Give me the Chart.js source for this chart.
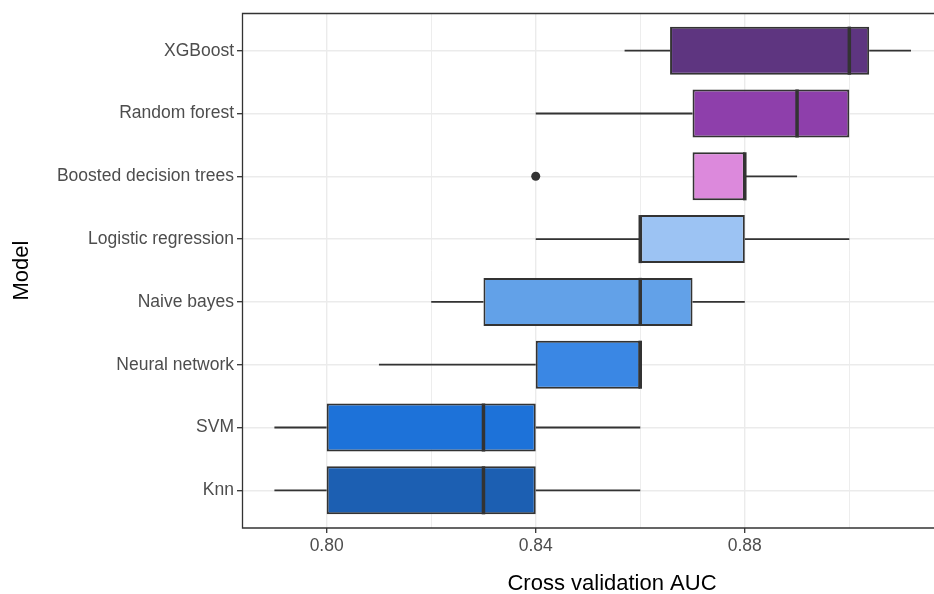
<!DOCTYPE html>
<html>
<head>
<meta charset="utf-8">
<script src="https://cdn.jsdelivr.net/npm/chart.js@4/dist/chart.umd.min.js"></script>
<style>
  html, body { margin: 0; padding: 0; background: #fff; overflow: hidden; }
  #wrap { width: 934px; height: 594px; position: relative; }
</style>
</head>
<body>
<div id="wrap"><canvas id="c"></canvas></div>
<script>
// Cross-validated AUC per model, summarised as box-plot statistics
const models = ['XGBoost', 'Random forest', 'Boosted decision trees', 'Logistic regression',
                'Naive bayes', 'Neural network', 'SVM', 'Knn'];
const whiskerLow  = [0.857, 0.84, 0.87, 0.84, 0.82, 0.81, 0.79, 0.79];
const lowerQuart  = [0.8657, 0.87, 0.87, 0.86, 0.83, 0.84, 0.80, 0.80];
const medians     = [0.90, 0.89, 0.88, 0.86, 0.86, 0.86, 0.83, 0.83];
const upperQuart  = [0.9038, 0.90, 0.88, 0.88, 0.87, 0.86, 0.84, 0.84];
const whiskerHigh = [0.9118, 0.90, 0.89, 0.90, 0.88, 0.86, 0.86, 0.86];
const outlierModels = ['Boosted decision trees'];
const outlierValues = [0.84];
const boxColors = ['#5e3580', '#8e3fab', '#dc89dc', '#9cc3f3', '#62a1e8', '#3a87e4', '#1d72d9', '#1c5fb2'];
const xGridValues = [0.80, 0.82, 0.84, 0.86, 0.88, 0.90];
const xTickLabels = [0.80, 0.84, 0.88];
const xTitle = 'Cross validation AUC';

const FONT = "'Liberation Sans', Arial, Helvetica, sans-serif";
const INK = '#333333';
const isLabelled = v => xTickLabels.some(t => Math.abs(t - v) < 1e-9);

// Whiskers sit behind the boxes, medians on top; the panel frame and x title are drawn last.
const boxPlotExtras = {
  id: 'boxPlotExtras',
  beforeDatasetsDraw(chart) {
    const { ctx, scales: { x, y } } = chart;
    ctx.save();
    ctx.strokeStyle = INK;
    ctx.lineWidth = 1.8;
    ctx.lineCap = 'butt';
    models.forEach((m, i) => {
      const py = y.getPixelForValue(i);
      ctx.beginPath();
      ctx.moveTo(x.getPixelForValue(whiskerLow[i]), py);
      ctx.lineTo(x.getPixelForValue(lowerQuart[i]), py);
      ctx.moveTo(x.getPixelForValue(upperQuart[i]), py);
      ctx.lineTo(x.getPixelForValue(whiskerHigh[i]), py);
      ctx.stroke();
    });
    ctx.restore();
  },
  afterDatasetsDraw(chart) {
    const { ctx, scales: { x } } = chart;
    const bars = chart.getDatasetMeta(0).data;
    ctx.save();
    ctx.strokeStyle = INK;
    ctx.lineWidth = 3.5;
    models.forEach((m, i) => {
      const bar = bars[i];
      const px = x.getPixelForValue(medians[i]);
      ctx.beginPath();
      ctx.moveTo(px, bar.y - bar.height / 2);
      ctx.lineTo(px, bar.y + bar.height / 2);
      ctx.stroke();
    });
    ctx.restore();
  },
  afterDraw(chart) {
    const { ctx, chartArea: a } = chart;
    ctx.save();
    ctx.strokeStyle = INK;
    ctx.lineWidth = 1.3;
    ctx.beginPath();
    ctx.moveTo(a.right + 2, a.top + 0.5);
    ctx.lineTo(a.left + 0.5, a.top + 0.5);
    ctx.lineTo(a.left + 0.5, a.bottom);
    ctx.lineTo(a.right + 2, a.bottom);
    ctx.stroke();
    // x-axis title, centred on the full (wider) plotting panel
    ctx.fillStyle = '#000';
    ctx.font = '22px ' + FONT;
    ctx.textAlign = 'center';
    ctx.textBaseline = 'middle';
    ctx.fillText(xTitle, 612, 584);
    ctx.restore();
  }
};

new Chart(document.getElementById('c'), {
  type: 'bar',
  data: {
    datasets: [
      {
        data: models.map((m, i) => ({ y: i, x: [lowerQuart[i], upperQuart[i]] })),
        backgroundColor: boxColors,
        borderColor: INK,
        borderWidth: 2,
        borderSkipped: false,
        barPercentage: 0.765,
        categoryPercentage: 1
      },
      {
        type: 'scatter',
        data: outlierModels.map((m, k) => ({ x: outlierValues[k], y: models.indexOf(m) })),
        backgroundColor: INK,
        borderWidth: 0,
        pointRadius: 4.5
      }
    ]
  },
  plugins: [boxPlotExtras],
  options: {
    indexAxis: 'y',
    responsive: true,
    maintainAspectRatio: false,
    animation: false,
    events: [],
    layout: { autoPadding: false, padding: { top: 13, right: 0, bottom: 0, left: 0 } },
    plugins: { legend: { display: false }, tooltip: { enabled: false } },
    scales: {
      x: {
        type: 'linear',
        min: 0.7838,
        max: 0.9162,
        afterBuildTicks: s => { s.ticks = xGridValues.map(v => ({ value: v })); },
        afterFit: s => { s.height = 66; s.paddingLeft = 0; s.paddingRight = 0; },
        border: { display: false },
        grid: {
          color: '#ebebeb',
          lineWidth: c => (c.tick && isLabelled(c.tick.value)) ? 1.4 : 0.9,
          tickColor: c => (c.tick && isLabelled(c.tick.value)) ? INK : 'rgba(0,0,0,0)',
          tickLength: 5,
          tickWidth: 1.3
        },
        ticks: {
          autoSkip: false,
          maxRotation: 0,
          padding: 3,
          color: '#4d4d4d',
          font: { family: FONT, size: 17.5 },
          callback: v => isLabelled(v) ? v.toFixed(2) : ''
        },
        title: { display: false }
      },
      y: {
        type: 'linear',
        reverse: true,
        offset: false,
        min: -0.6,
        max: 7.6,
        afterBuildTicks: s => { s.ticks = models.map((m, i) => ({ value: i })); },
        afterFit: s => { s.width = 242; s.paddingTop = 0; s.paddingBottom = 0; },
        border: { display: false },
        grid: {
          offset: false,
          color: '#ebebeb',
          lineWidth: 1.4,
          tickColor: INK,
          tickLength: 5,
          tickWidth: 1.3
        },
        ticks: {
          autoSkip: false,
          padding: 3,
          color: '#4d4d4d',
          font: { family: FONT, size: 17.5 },
          callback: v => models[v]
        },
        title: {
          display: true,
          text: 'Model',
          color: '#000',
          font: { family: FONT, size: 22, lineHeight: 1 },
          padding: { top: 11, bottom: 0 }
        }
      }
    }
  }
});
</script>
</body>
</html>
